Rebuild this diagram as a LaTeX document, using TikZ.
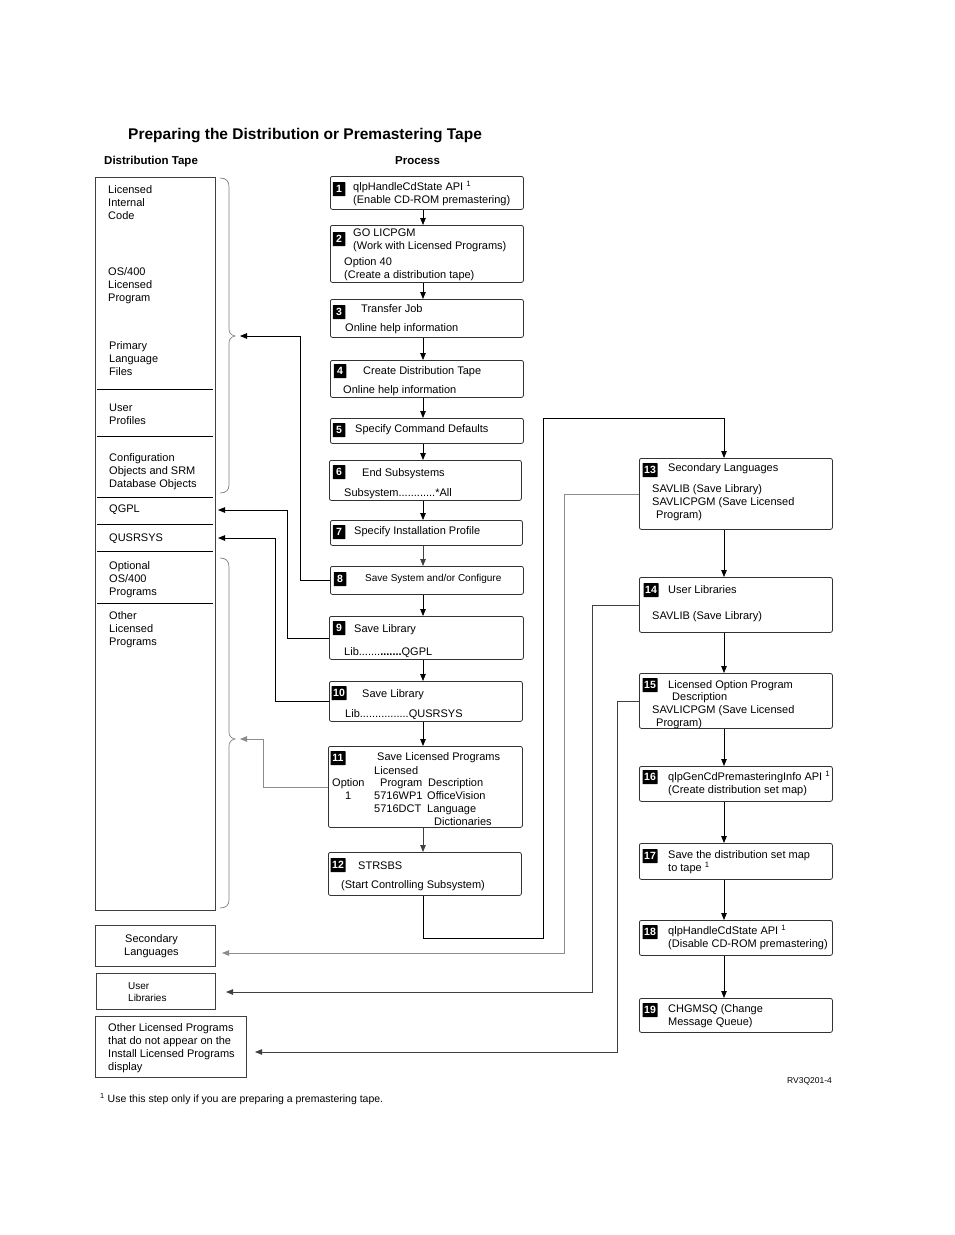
\documentclass[tikz,border=0pt]{standalone}
\usepackage{fontspec}
\setmainfont{Liberation Sans}
\usetikzlibrary{arrows.meta}
\newcommand\mytext[4]{\node[txt] (#1) at (#2,#3) {#4};}
\begin{document}
\begin{tikzpicture}[x=1pt,y=-1pt,
  txt/.style={anchor=base west, inner sep=0, font=\fontsize{11}{13}\selectfont},
  pbox/.style={draw=black!80, line width=0.8pt, rounded corners=2pt, anchor=north west, inner sep=0},
  sbox/.style={draw=black!75, line width=0.8pt, anchor=north west, inner sep=0},
  badge/.style={fill=black, text=white, inner sep=0, minimum width=12.5, minimum height=14, rounded corners=0.5pt, font=\fontsize{10.5}{11}\selectfont\bfseries},
  badgew/.style={badge, minimum width=15},
  arr/.style={line width=0.8pt, -{Triangle[length=7pt,width=5.5pt]}},
  garr/.style={arr, draw=black!45},
  darr/.style={arr, draw=black!75},
  brc/.style={draw=black!50, line width=0.7pt}]
\useasboundingbox[fill=white] (0,0) rectangle (954,1235);

% headings
\node[anchor=base west, inner sep=0, font=\fontsize{15.5}{18}\selectfont\bfseries] (title) at (128,139) {Preparing the Distribution or Premastering Tape};
\node[anchor=base west, inner sep=0, font=\fontsize{11.5}{13}\selectfont\bfseries] (dhead) at (104,164) {Distribution Tape};
\node[anchor=base west, inner sep=0, font=\fontsize{11.5}{13}\selectfont\bfseries] (phead) at (395,164) {Process};

% distribution tape column
\node[sbox, minimum width=120, minimum height=733] (dist) at (95,177) {};
\foreach \yy in {389,436,497,524,551,603} \draw[line width=0.8pt] (97,\yy) -- (213,\yy);
\mytext{d1}{108}{193}{Licensed}
\mytext{d2}{108}{206}{Internal}
\mytext{d3}{108}{219}{Code}
\mytext{d4}{108}{275}{OS/400}
\mytext{d5}{108}{288}{Licensed}
\mytext{d6}{108}{301}{Program}
\mytext{d7}{109}{349}{Primary}
\mytext{d8}{109}{362}{Language}
\mytext{d9}{109}{375}{Files}
\mytext{d10}{109}{411}{User}
\mytext{d11}{109}{424}{Profiles}
\mytext{d12}{109}{461}{Configuration}
\mytext{d13}{109}{474}{Objects and SRM}
\mytext{d14}{109}{487}{Database Objects}
\mytext{d15}{109}{512}{QGPL}
\mytext{d16}{109}{541}{QUSRSYS}
\mytext{d17}{109}{569}{Optional}
\mytext{d18}{109}{582}{OS/400}
\mytext{d19}{109}{595}{Programs}
\mytext{d20}{109}{619}{Other}
\mytext{d21}{109}{632}{Licensed}
\mytext{d22}{109}{645}{Programs}

% braces
\draw[brc] (220,178) .. controls (226,178) and (229,181) .. (229,187) -- (229,329)
  .. controls (229,333) and (231,335) .. (235,336) .. controls (231,337) and (229,339) .. (229,343)
  -- (229,485) .. controls (229,490) and (226,493) .. (220,493);
\draw[brc] (220,558) .. controls (226,558) and (229,561) .. (229,567) -- (229,732)
  .. controls (229,736) and (231,738) .. (235,739) .. controls (231,740) and (229,742) .. (229,746)
  -- (229,900) .. controls (229,905) and (226,908) .. (220,908);

% bottom-left boxes
\node[sbox, minimum width=120, minimum height=41] (bsec) at (95,925) {};
\mytext{bs1}{125}{942}{Secondary}
\mytext{bs2}{124}{955}{Languages}
\node[sbox, minimum width=119, minimum height=36] (buser) at (96,973) {};
\node[txt, font=\fontsize{10}{12}\selectfont] (bu1) at (128,989) {User};
\node[txt, font=\fontsize{10}{12}\selectfont] (bu2) at (128,1001) {Libraries};
\node[sbox, minimum width=151, minimum height=61] (bother) at (95,1016) {};
\mytext{bo1}{108}{1031}{Other Licensed Programs}
\mytext{bo2}{108}{1044}{that do not appear on the}
\mytext{bo3}{108}{1057}{Install Licensed Programs}
\mytext{bo4}{108}{1070}{display}

% process column
\node[pbox, minimum width=193, minimum height=33] (s1) at (330,176) {};
\node[pbox, minimum width=193, minimum height=57] (s2) at (330,225) {};
\node[pbox, minimum width=193, minimum height=38] (s3) at (330,299) {};
\node[pbox, minimum width=193, minimum height=37] (s4) at (330,360) {};
\node[pbox, minimum width=193, minimum height=25] (s5) at (330,418) {};
\node[pbox, minimum width=192, minimum height=40] (s6) at (329,460) {};
\node[pbox, minimum width=192, minimum height=25] (s7) at (330,520) {};
\node[pbox, minimum width=193, minimum height=28] (s8) at (330,566) {};
\node[pbox, minimum width=194, minimum height=43] (s9) at (329,616) {};
\node[pbox, minimum width=193, minimum height=40] (s10) at (329,681) {};
\node[pbox, minimum width=194, minimum height=81] (s11) at (328,746) {};
\node[pbox, minimum width=193, minimum height=43] (s12) at (328,852) {};

\node[pbox, minimum width=193, minimum height=71] (s13) at (639,458) {};
\node[pbox, minimum width=193, minimum height=55] (s14) at (639,577) {};
\node[pbox, minimum width=193, minimum height=55] (s15) at (639,673) {};
\node[pbox, minimum width=193, minimum height=35] (s16) at (639,766) {};
\node[pbox, minimum width=193, minimum height=36] (s17) at (639,843) {};
\node[pbox, minimum width=193, minimum height=35] (s18) at (639,920) {};
\node[pbox, minimum width=193, minimum height=34] (s19) at (639,998) {};

% badges
\node[badge] (n1) at (339,189) {1};
\node[badge] (n2) at (339,239) {2};
\node[badge] (n3) at (339,312) {3};
\node[badge] (n4) at (340,371) {4};
\node[badge] (n5) at (339,430) {5};
\node[badge] (n6) at (339,472) {6};
\node[badge] (n7) at (339,532) {7};
\node[badge] (n8) at (340,579) {8};
\node[badge] (n9) at (339,628) {9};
\node[badgew] (n10) at (339,693) {10};
\node[badgew] (n11) at (338,758) {11};
\node[badgew] (n12) at (338,865) {12};
\node[badgew] (n13) at (650,470) {13};
\node[badgew] (n14) at (651,590) {14};
\node[badgew] (n15) at (650,685) {15};
\node[badgew] (n16) at (650,777) {16};
\node[badgew] (n17) at (650,856) {17};
\node[badgew] (n18) at (650,932) {18};
\node[badgew] (n19) at (650,1010) {19};

% process texts
\mytext{p1a}{353}{190}{qlpHandleCdState API \textsuperscript{1}}
\mytext{p1b}{353}{203}{(Enable CD-ROM premastering)}
\mytext{p2a}{353}{236}{GO LICPGM}
\mytext{p2b}{353}{249}{(Work with Licensed Programs)}
\mytext{p2c}{344}{265}{Option 40}
\mytext{p2d}{344}{278}{(Create a distribution tape)}
\mytext{p3a}{361}{312}{Transfer Job}
\mytext{p3b}{345}{331}{Online help information}
\mytext{p4a}{363}{374}{Create Distribution Tape}
\mytext{p4b}{343}{393}{Online help information}
\mytext{p5a}{355}{432}{Specify Command Defaults}
\mytext{p6a}{362}{476}{End Subsystems}
\mytext{p6b}{344}{496}{Subsystem............*All}
\mytext{p7a}{354}{534}{Specify Installation Profile}
\node[txt, font=\fontsize{10}{12}\selectfont] (p8a) at (365,581) {Save System and/or Configure};
\mytext{p9a}{354}{632}{Save Library}
\mytext{p9b}{344}{655}{Lib.......\textbf{.......}QGPL}
\mytext{p10a}{362}{697}{Save Library}
\mytext{p10b}{345}{717}{Lib................QUSRSYS}
\mytext{p11a}{377}{760}{Save Licensed Programs}
\mytext{p11b}{374}{774}{Licensed}
\mytext{p11c}{332}{786}{Option}
\mytext{p11d}{380}{786}{Program}
\mytext{p11e}{428}{786}{Description}
\mytext{p11f}{345}{799}{1}
\mytext{p11g}{374}{799}{5716WP1}
\mytext{p11h}{427}{799}{OfficeVision}
\mytext{p11i}{374}{812}{5716DCT}
\mytext{p11j}{427}{812}{Language}
\mytext{p11k}{434}{825}{Dictionaries}
\mytext{p12a}{358}{869}{STRSBS}
\mytext{p12b}{341}{888}{(Start Controlling Subsystem)}

\mytext{p13a}{668}{471}{Secondary Languages}
\mytext{p13b}{652}{492}{SAVLIB (Save Library)}
\mytext{p13c}{652}{505}{SAVLICPGM (Save Licensed}
\mytext{p13d}{656}{518}{Program)}
\mytext{p14a}{668}{593}{User Libraries}
\mytext{p14b}{652}{619}{SAVLIB (Save Library)}
\mytext{p15a}{668}{688}{Licensed Option Program}
\mytext{p15b}{672}{700}{Description}
\mytext{p15c}{652}{713}{SAVLICPGM (Save Licensed}
\mytext{p15d}{656}{726}{Program)}
\mytext{p16a}{668}{780}{qlpGenCdPremasteringInfo API \textsuperscript{1}}
\mytext{p16b}{668}{793}{(Create distribution set map)}
\mytext{p17a}{668}{858}{Save the distribution set map}
\mytext{p17b}{668}{871}{to tape \textsuperscript{1}}
\mytext{p18a}{668}{934}{qlpHandleCdState API \textsuperscript{1}}
\mytext{p18b}{668}{947}{(Disable CD-ROM premastering)}
\mytext{p19a}{668}{1012}{CHGMSQ (Change}
\mytext{p19b}{668}{1025}{Message Queue)}

% footnote and id
\node[anchor=base west, inner sep=0, font=\fontsize{10.5}{12}\selectfont] (fn) at (100,1102) {\textsuperscript{1} Use this step only if you are preparing a premastering tape.};
\node[anchor=base west, inner sep=0, font=\fontsize{8.5}{10}\selectfont] (rid) at (787,1083) {RV3Q201-4};

% connector coordinates
\coordinate (mx) at (423,0);
\coordinate (rx) at (724,0);
\coordinate (b1tip) at (240,336);
\coordinate (qg) at (218,510);
\coordinate (qu) at (218,538);
\coordinate (b2tip) at (240,739);
\coordinate (secin) at (222,953);
\coordinate (userin) at (226,992);
\coordinate (othin) at (255,1052);

% vertical flow, process column
\draw[arr] (s1.south -| mx) -- (s2.north -| mx);
\draw[arr] (s2.south -| mx) -- (s3.north -| mx);
\draw[arr] (s3.south -| mx) -- (s4.north -| mx);
\draw[arr] (s4.south -| mx) -- (s5.north -| mx);
\draw[arr] (s5.south -| mx) -- (s6.north -| mx);
\draw[arr] (s6.south -| mx) -- (s7.north -| mx);
\draw[darr] (s7.south -| mx) -- (s8.north -| mx);
\draw[arr] (s8.south -| mx) -- (s9.north -| mx);
\draw[arr] (s9.south -| mx) -- (s10.north -| mx);
\draw[arr] (s10.south -| mx) -- (s11.north -| mx);
\draw[darr] (s11.south -| mx) -- (s12.north -| mx);
\draw[arr] (s12.south -| mx) |- (543,938) -- (543,418) -| (s13.north -| rx);
\draw[arr] (s13.south -| rx) -- (s14.north -| rx);
\draw[arr] (s14.south -| rx) -- (s15.north -| rx);
\draw[arr] (s15.south -| rx) -- (s16.north -| rx);
\draw[arr] (s16.south -| rx) -- (s17.north -| rx);
\draw[arr] (s17.south -| rx) -- (s18.north -| rx);
\draw[arr] (s18.south -| rx) -- (s19.north -| rx);

% connectors to the tape
\draw[arr] (s8.west) -| (300,336) -- (b1tip);
\draw[arr] (s9.west) -| (287,510) -- (qg);
\draw[arr] (s10.west) -| (275,538) -- (qu);
\draw[garr] (s11.west) -| (263,739) -- (b2tip);
\draw[garr] (s13.west) -| (564,953) -- (secin);
\draw[darr] (s14.west) -| (592,992) -- (userin);
\draw[darr] (s15.west) -| (617,1052) -- (othin);
\end{tikzpicture}
\end{document}
